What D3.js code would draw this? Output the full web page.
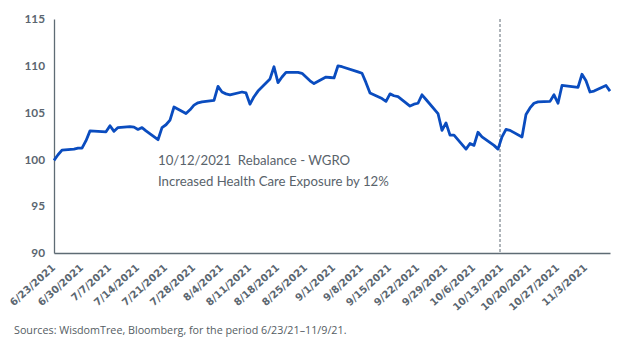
<!DOCTYPE html>
<html><head><meta charset="utf-8">
<script src="https://cdn.jsdelivr.net/npm/d3@7"></script>
<style>body{margin:0;background:#fff;}svg{display:block;}</style>
</head><body>
<svg id="chart" width="617" height="348"></svg>
<script>
const dates = ["2021-06-23","2021-06-24","2021-06-25","2021-06-28","2021-06-29","2021-06-30","2021-07-01","2021-07-02",
"2021-07-06","2021-07-07","2021-07-08","2021-07-09","2021-07-12","2021-07-13","2021-07-14","2021-07-15","2021-07-16",
"2021-07-19","2021-07-20","2021-07-21","2021-07-22","2021-07-23","2021-07-26","2021-07-27","2021-07-28","2021-07-29","2021-07-30",
"2021-08-02","2021-08-03","2021-08-04","2021-08-05","2021-08-06","2021-08-09","2021-08-10","2021-08-11","2021-08-12","2021-08-13",
"2021-08-16","2021-08-17","2021-08-18","2021-08-19","2021-08-20","2021-08-23","2021-08-24","2021-08-25","2021-08-26","2021-08-27",
"2021-08-30","2021-08-31","2021-09-01","2021-09-02","2021-09-03","2021-09-07","2021-09-08","2021-09-09","2021-09-10",
"2021-09-13","2021-09-14","2021-09-15","2021-09-16","2021-09-17","2021-09-20","2021-09-21","2021-09-22","2021-09-23","2021-09-24",
"2021-09-27","2021-09-28","2021-09-29","2021-09-30","2021-10-01","2021-10-04","2021-10-05","2021-10-06","2021-10-07","2021-10-08",
"2021-10-11","2021-10-12","2021-10-13","2021-10-14","2021-10-15","2021-10-18","2021-10-19","2021-10-20","2021-10-21","2021-10-22",
"2021-10-25","2021-10-26","2021-10-27","2021-10-28","2021-10-29","2021-11-01","2021-11-02","2021-11-03","2021-11-04","2021-11-05",
"2021-11-08","2021-11-09"];
const values = [99.9,100.5,101.0,101.1,101.2,101.2,102.0,103.05,
102.95,103.6,103.0,103.4,103.5,103.45,103.2,103.4,103.05,
102.1,103.4,103.7,104.2,105.6,104.9,105.3,105.8,106.05,106.15,
106.3,107.8,107.2,107.0,106.9,107.2,107.1,105.9,106.7,107.3,
108.6,109.9,108.2,108.8,109.3,109.3,109.2,108.8,108.4,108.1,
108.8,108.75,108.7,110.0,109.9,109.35,109.2,108.2,107.1,
106.5,106.2,107.0,106.8,106.7,105.7,105.9,106.0,106.9,106.4,
104.9,103.1,103.9,102.6,102.6,101.1,101.7,101.5,102.9,102.4,
101.5,101.1,102.4,103.2,103.1,102.4,104.8,105.5,106.0,106.15,
106.2,106.9,106.0,107.9,107.85,107.7,109.1,108.4,107.2,107.3,
107.9,107.3];
const xTickDates = ["2021-06-23","2021-06-30","2021-07-07","2021-07-14","2021-07-21","2021-07-28","2021-08-04","2021-08-11",
"2021-08-18","2021-08-25","2021-09-01","2021-09-08","2021-09-15","2021-09-22","2021-09-29","2021-10-06","2021-10-13",
"2021-10-20","2021-10-27","2021-11-03"];
const yTicks = [90,95,100,105,110,115];
const rebalanceDate = "2021-10-12T12:00";
const annotation = ["10/12/2021  Rebalance - WGRO","Increased Health Care Exposure by 12%"];
const sourceText = "Sources: WisdomTree, Bloomberg, for the period 6/23/21\u201311/9/21.";

const parse = d3.timeParse("%Y-%m-%d");
const data = dates.map((d,i)=>({date:parse(d), value:values[i]}));
const svg = d3.select("#chart");
const mLeft=54, mRight=610, mTop=19, mBottom=253;
const x = d3.scaleTime().domain([parse("2021-06-23"), parse("2021-11-09")]).range([mLeft,mRight]);
const y = d3.scaleLinear().domain([90,115]).range([mBottom,mTop]);
const axisColor = "#5e6b74";

// y axis
const ya = svg.append("g").attr("transform",`translate(${mLeft},0)`)
  .call(d3.axisLeft(y).tickValues(yTicks).tickSize(0).tickPadding(9).tickFormat(d3.format("d")));
ya.select(".domain").attr("stroke",axisColor).attr("stroke-width",1.3);
ya.selectAll("text").attr("fill","#5b6670").attr("font-family","Lato, sans-serif").attr("font-weight","bold").attr("font-size","11.8px");

// x axis
const fmt = d3.timeFormat("%-m/%-d/%Y");
const xa = svg.append("g").attr("transform",`translate(0,${mBottom})`)
  .call(d3.axisBottom(x).tickValues(xTickDates.map(parse)).tickSize(0).tickFormat(fmt));
xa.select(".domain").attr("stroke",axisColor).attr("stroke-width",1.3);
xa.selectAll("text").attr("fill","#5b6670").attr("font-family","'DejaVu Sans', sans-serif").attr("font-weight","bold").attr("font-size","10.1px")
  .attr("text-anchor","end").attr("dy","0.35em")
  .attr("transform","translate(-1,13) rotate(-42)").attr("y",0).attr("x",0);

// rebalance line
svg.append("line").attr("x1",x(new Date(rebalanceDate))).attr("x2",x(new Date(rebalanceDate)))
  .attr("y1",y(115)).attr("y2",mBottom).attr("stroke","#5e6b74").attr("stroke-width",1).attr("stroke-dasharray","3,2");

// line
svg.append("path").datum(data).attr("fill","none").attr("stroke","#0a4cbf").attr("stroke-width",2.8)
  .attr("stroke-linejoin","round")
  .attr("d", d3.line().x(d=>x(d.date)).y(d=>y(d.value)));

// annotation
svg.append("g").selectAll("text").data(annotation).join("text")
  .attr("x",158).attr("y",(d,i)=>165+i*20.5).attr("fill","#59636b")
  .style("white-space","pre")
  .attr("font-family","Lato, sans-serif").attr("font-size","13.2px").text(d=>d);

svg.append("text").attr("x",14).attr("y",334).attr("fill","#555d63")
  .attr("font-family","'Open Sans', sans-serif").attr("font-size","10.75px").text(sourceText);
</script>
</body></html>
